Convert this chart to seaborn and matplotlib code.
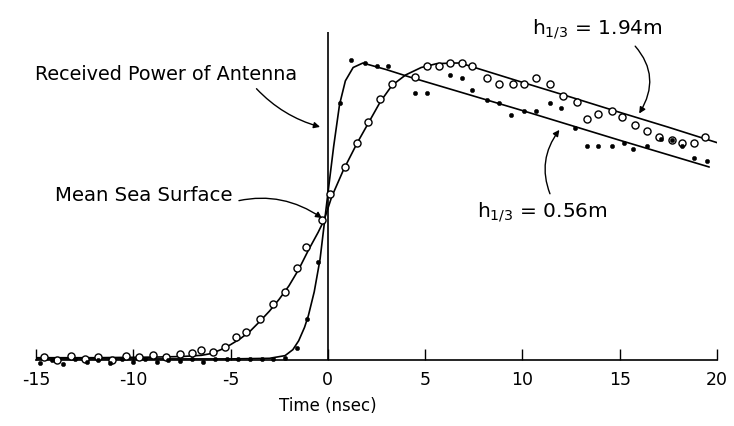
import matplotlib
matplotlib.use("Agg")
import matplotlib.pyplot as plt
import seaborn as sns
import pandas as pd

# ---------------- data ----------------
# fitted curve for h1/3 = 1.94 m (open circles)
curve_194_t = [-15, -12, -9, -7.5, -6.5, -6, -5.5, -5, -4.5, -4, -3.5, -3, -2.5, -2, -1.5, -1,
               -0.5, -0.2, 0.2, 0.8, 1.5, 2.1, 2.7, 3.3, 4.0, 4.8, 5.6, 6.5, 6.8,
               10, 12.5, 15, 17.5, 20.1]
curve_194_v = [0.008, 0.008, 0.01, 0.012, 0.016, 0.022, 0.035, 0.052, 0.072, 0.097, 0.13, 0.165,
               0.205, 0.25, 0.305, 0.37, 0.43, 0.47, 0.55, 0.64, 0.73, 0.80, 0.87, 0.925,
               0.96, 0.985, 0.998, 1.0, 1.0, 0.935, 0.885, 0.834, 0.784, 0.73]

# fitted curve for h1/3 = 0.56 m (dots)
curve_056_t = [-15, -10, -5, -3, -2.2, -1.8, -1.5, -1.2, -1.0, -0.7, -0.4, -0.2, 0.0, 0.3,
               0.6, 0.9, 1.3, 1.8, 3.0, 4.2, 10, 15, 19.6]
curve_056_v = [0.004, 0.004, 0.004, 0.006, 0.015, 0.035, 0.065, 0.11, 0.15, 0.23, 0.34, 0.45,
               0.56, 0.72, 0.86, 0.94, 0.985, 1.0, 0.978, 0.953, 0.84, 0.74, 0.65]

# measured points, h1/3 = 1.94 m (open circles)
circ_t = [-14.6, -13.9, -13.2, -12.5, -11.8, -11.1, -10.4, -9.7, -9.0, -8.3, -7.6, -7.0,
          -6.5, -5.9, -5.3, -4.7, -4.2, -3.5, -2.8, -2.2, -1.6, -1.1, -0.3, 0.1, 0.9,
          1.5, 2.05, 2.7, 3.3, 4.5, 5.1, 5.7, 6.3, 6.9, 7.4, 8.2, 8.8, 9.5, 10.1, 10.7,
          11.4, 12.1, 12.8, 13.3, 13.9, 14.6, 15.1, 15.8, 16.4, 17.0, 17.7, 18.2, 18.8, 19.4]
circ_v = [0.01, 0.0, 0.015, 0.005, 0.012, 0.0, 0.015, 0.01, 0.018, 0.012, 0.02, 0.025,
          0.035, 0.028, 0.044, 0.077, 0.095, 0.14, 0.19, 0.23, 0.31, 0.38, 0.47, 0.56, 0.65,
          0.73, 0.80, 0.88, 0.93, 0.953, 0.99, 0.99, 1.0, 1.0, 0.99, 0.95, 0.93, 0.93, 0.93,
          0.95, 0.93, 0.89, 0.87, 0.81, 0.83, 0.84, 0.82, 0.79, 0.77, 0.75, 0.74, 0.73, 0.73, 0.75]

# measured points, h1/3 = 0.56 m (dots)
dot_t = [-14.8, -14.2, -13.6, -13.0, -12.4, -11.8, -11.2, -10.6, -10.0, -9.4, -8.8, -8.2,
         -7.6, -7.0, -6.4, -5.8, -5.2, -4.6, -4.0, -3.4, -2.8, -2.2, -1.6, -1.08, -0.5,
         0.6, 1.2, 1.9, 2.5, 3.1, 4.5, 5.1, 6.3, 6.9, 7.4, 8.2, 8.8, 9.4, 10.1, 10.7,
         11.4, 12.0, 12.7, 13.3, 13.9, 14.6, 15.2, 15.7, 16.4, 17.1, 17.7, 18.2, 18.8, 19.5]
dot_v = [-0.01, 0.0, -0.012, 0.005, -0.008, 0.0, -0.01, 0.004, -0.005, 0.002, -0.006, 0.0,
         -0.004, 0.003, -0.005, 0.004, 0.002, 0.004, 0.003, 0.005, 0.004, 0.006, 0.04, 0.14, 0.33,
         0.865, 1.01, 1.0, 0.99, 0.99, 0.90, 0.90, 0.96, 0.95, 0.91, 0.875, 0.865, 0.825, 0.84, 0.84,
         0.865, 0.85, 0.78, 0.72, 0.72, 0.72, 0.73, 0.71, 0.72, 0.745, 0.74, 0.72, 0.68, 0.67]

tick_vals = [-15, -10, -5, 0, 5, 10, 15, 20]
tick_labels = ["-15", "-10", "-5", "0", "5", "10", "15", "20"]

label_194 = r"h$_{1/3}$ = 1.94m"
label_056 = r"h$_{1/3}$ = 0.56m"
label_power = "Received Power of Antenna"
label_mss = "Mean Sea Surface"
x_label = "Time (nsec)"

# ---------------- drawing ----------------
sns.set_theme(style="white")
plt.rcParams["font.family"] = ["DejaVu Sans"]
plt.rcParams["axes.unicode_minus"] = False
plt.rcParams["text.color"] = "black"
plt.rcParams["xtick.color"] = "black"
plt.rcParams["xtick.labelcolor"] = "black"

fig = plt.figure(figsize=(7.34, 4.26), dpi=100)
ax = fig.add_axes([36 / 734, 0.1338, 681 / 734, 0.8577])

df194 = pd.DataFrame({"t": curve_194_t, "v": curve_194_v})
df056 = pd.DataFrame({"t": curve_056_t, "v": curve_056_v})
dfc = pd.DataFrame({"t": circ_t, "v": circ_v})
dfd = pd.DataFrame({"t": dot_t, "v": dot_v})

sns.lineplot(data=df194, x="t", y="v", ax=ax, color="black", lw=1.2, sort=False, estimator=None)
sns.lineplot(data=df056, x="t", y="v", ax=ax, color="black", lw=1.2, sort=False, estimator=None)
sns.scatterplot(data=dfc, x="t", y="v", ax=ax, marker="o", s=26, facecolor="white",
                edgecolor="black", linewidth=1.0, zorder=3, clip_on=False)
sns.scatterplot(data=dfd, x="t", y="v", ax=ax, marker="o", s=10, color="black",
                edgecolor="black", linewidth=0.3, zorder=4, clip_on=False)

ax.vlines(0, 0, 1.104, color="black", lw=1.2)

ax.set_xlim(-15, 20)
ax.set_ylim(-0.03, 1.2)
for s in ["top", "right", "left"]:
    ax.spines[s].set_visible(False)
ax.spines["bottom"].set_position(("data", 0))
ax.spines["bottom"].set_color("black")
ax.spines["bottom"].set_linewidth(1.2)
ax.set_yticks([])
ax.set_xticks(tick_vals)
ax.set_xticklabels(tick_labels, fontsize=12.5)
ax.set_xticks([-15, 20], minor=True)
ax.tick_params(axis="x", which="major", direction="in", length=8, width=1.0,
               color="black", pad=8, bottom=True, labelcolor="black")
ax.tick_params(axis="x", which="minor", direction="in", length=18, width=1.0,
               color="black", bottom=True)
ax.set_xlabel("")
ax.set_ylabel("")
ax.text(0, -0.155, x_label, ha="center", va="center", fontsize=12, color="black")

# annotations
ax.annotate(label_power, xy=(-0.4, 0.785), xytext=(-15.05, 0.96),
            ha="left", va="center", fontsize=13.8, color="black",
            arrowprops=dict(arrowstyle="-|>", color="black", lw=1.0,
                            shrinkA=1, shrinkB=0, mutation_scale=9,
                            connectionstyle="arc3,rad=0.15",
                            relpos=(0.83, 0.0)))
ax.annotate(label_mss, xy=(-0.3, 0.478), xytext=(-14.0, 0.555),
            ha="left", va="center", fontsize=14.2, color="black",
            arrowprops=dict(arrowstyle="-|>", color="black", lw=1.0,
                            shrinkA=2, shrinkB=0, mutation_scale=9,
                            connectionstyle="arc3,rad=-0.25",
                            relpos=(0.95, 0.0)))
ax.annotate(label_194, xy=(16.0, 0.83), xytext=(10.5, 1.115),
            ha="left", va="center", fontsize=14.5, color="black",
            arrowprops=dict(arrowstyle="-|>", color="black", lw=1.0,
                            shrinkA=2, shrinkB=0, mutation_scale=9,
                            connectionstyle="arc3,rad=-0.4",
                            relpos=(0.75, 0.0)))
ax.annotate(label_056, xy=(11.9, 0.775), xytext=(7.65, 0.50),
            ha="left", va="center", fontsize=14.5, color="black",
            arrowprops=dict(arrowstyle="-|>", color="black", lw=1.0,
                            shrinkA=2, shrinkB=0, mutation_scale=9,
                            connectionstyle="arc3,rad=-0.3",
                            relpos=(0.58, 1.0)))

fig.savefig("out.png", dpi=100, facecolor="white")
